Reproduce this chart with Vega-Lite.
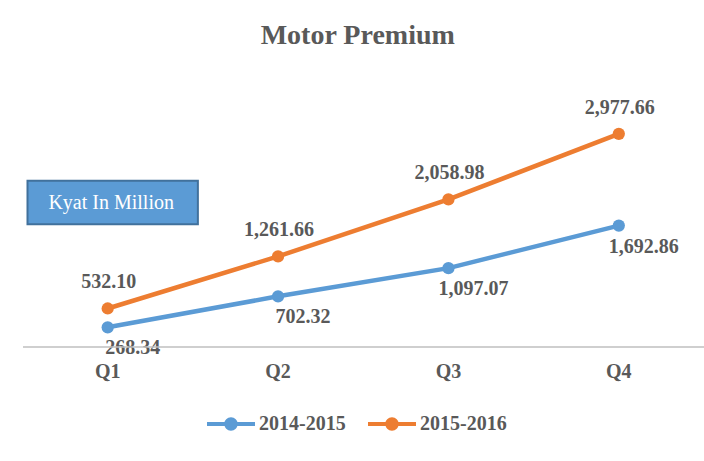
{
  "$schema": "https://vega.github.io/schema/vega-lite/v6.json",
  "autosize": "none",
  "width": 681.5,
  "height": 250,
  "padding": {"left": 22.5, "top": 96.5, "right": 0, "bottom": 114.5},
  "background": "#FFFFFF",
  "config": {"view": {"stroke": null}},
  "title": {
    "text": "Motor Premium",
    "font": "Liberation Serif",
    "fontSize": 28,
    "fontWeight": "bold",
    "color": "#595959",
    "anchor": "middle",
    "frame": "group",
    "offset": 25,
    "baseline": "alphabetic",
    "dx": -5.5
  },
  "data": {
    "values": [
      {"quarter": "Q1", "period": "2014-2015", "value": 268.34},
      {"quarter": "Q2", "period": "2014-2015", "value": 702.32},
      {"quarter": "Q3", "period": "2014-2015", "value": 1097.07},
      {"quarter": "Q4", "period": "2014-2015", "value": 1692.86},
      {"quarter": "Q1", "period": "2015-2016", "value": 532.10},
      {"quarter": "Q2", "period": "2015-2016", "value": 1261.66},
      {"quarter": "Q3", "period": "2015-2016", "value": 2058.98},
      {"quarter": "Q4", "period": "2015-2016", "value": 2977.66}
    ]
  },
  "layer": [
    {
      "data": {"values": [{"quarter": "Q1", "note": "Kyat In Million"}]},
      "mark": {"type": "rect", "fill": "#5B9BD5", "stroke": "#41719C", "strokeWidth": 2, "xOffset": 5},
      "encoding": {
        "x": {
          "field": "quarter",
          "type": "nominal",
          "scale": {"type": "band", "domain": ["Q1", "Q2", "Q3", "Q4"], "paddingInner": 0, "paddingOuter": 0},
          "axis": {
            "title": null,
            "labelAngle": 0,
            "ticks": false,
            "grid": false,
            "domainColor": "#BFBFBF",
            "domainWidth": 1.5,
            "labelFont": "Liberation Serif",
            "labelFontSize": 20,
            "labelFontWeight": "bold",
            "labelColor": "#595959",
            "labelPadding": 15
          }
        },
        "y": {"datum": 2321, "type": "quantitative", "scale": {"domain": [0, 3500]}, "axis": null},
        "y2": {"datum": 1711}
      }
    },
    {
      "data": {"values": [{"quarter": "Q1", "note": "Kyat In Million"}]},
      "mark": {"type": "text", "font": "Liberation Serif", "fontSize": 20, "color": "#FFFFFF", "dx": 3.5, "baseline": "middle"},
      "encoding": {
        "x": {"field": "quarter", "type": "nominal"},
        "y": {"datum": 2009, "type": "quantitative"},
        "text": {"field": "note"}
      }
    },
    {
      "mark": {"type": "point", "filled": true, "size": 150, "opacity": 1},
      "encoding": {
        "x": {"field": "quarter", "type": "nominal"},
        "y": {"field": "value", "type": "quantitative"},
        "color": {
          "field": "period",
          "type": "nominal",
          "scale": {"domain": ["2014-2015", "2015-2016"], "range": ["#5B9BD5", "#ED7D31"]},
          "legend": {
            "orient": "none",
            "legendX": 184.5,
            "legendY": 303.5,
            "direction": "horizontal",
            "title": null,
            "symbolType": "M-1,-0.085L1,-0.085L1,0.085L-1,0.085Z M-0.28,0A0.28,0.28 0 1,1 0.28,0A0.28,0.28 0 1,1 -0.28,0Z",
            "symbolSize": 2304,
            "symbolStrokeWidth": 0,
            "labelFont": "Liberation Serif",
            "labelFontSize": 20,
            "labelFontWeight": "bold",
            "labelColor": "#595959",
            "labelOffset": 4,
            "columnPadding": 22
          }
        }
      }
    },
    {
      "mark": {"type": "line", "strokeWidth": 4.5, "strokeCap": "round"},
      "encoding": {
        "x": {"field": "quarter", "type": "nominal"},
        "y": {"field": "value", "type": "quantitative"},
        "color": {"field": "period", "type": "nominal"}
      }
    },
    {
      "transform": [{"filter": "datum.period === '2015-2016'"}],
      "mark": {"type": "text", "font": "Liberation Serif", "fontSize": 20, "fontWeight": "bold", "color": "#595959", "dy": -26, "dx": 1, "baseline": "middle"},
      "encoding": {
        "x": {"field": "quarter", "type": "nominal"},
        "y": {"field": "value", "type": "quantitative"},
        "text": {"field": "value", "type": "quantitative", "format": ",.2f"}
      }
    },
    {
      "transform": [{"filter": "datum.period === '2014-2015'"}],
      "mark": {"type": "text", "font": "Liberation Serif", "fontSize": 20, "fontWeight": "bold", "color": "#595959", "dy": 21, "dx": 25, "baseline": "middle"},
      "encoding": {
        "x": {"field": "quarter", "type": "nominal"},
        "y": {"field": "value", "type": "quantitative"},
        "text": {"field": "value", "type": "quantitative", "format": ",.2f"}
      }
    }
  ]
}
